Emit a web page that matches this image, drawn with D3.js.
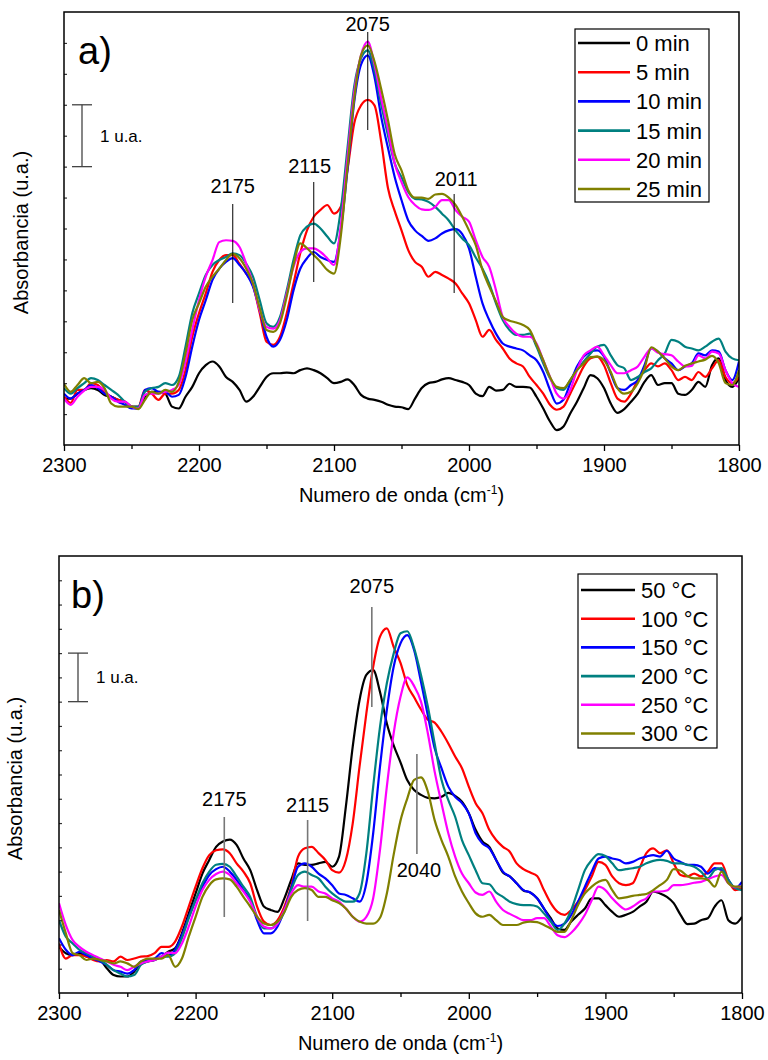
<!DOCTYPE html>
<html>
<head>
<meta charset="utf-8">
<script src="https://cdn.jsdelivr.net/npm/d3@7"></script>
<style>
  body { margin: 0; background: #fff; }
  svg { display: block; }
  text { font-family: "Liberation Sans", Arial, sans-serif; fill: #000; }
</style>
</head>
<body>
<svg id="chart" width="768" height="1060"></svg>
<script>
// sampling grid, 2300 -> 1800 cm-1 every 5
const wavenumbers = d3.range(2300, 1799, -5);

const timeLabels = ['0 min', '5 min', '10 min', '15 min', '20 min', '25 min'];
const tempLabels = ['50 \u00B0C', '100 \u00B0C', '150 \u00B0C', '200 \u00B0C', '250 \u00B0C', '300 \u00B0C'];
const seriesColors = ['#000000', '#ff0000', '#0000ff', '#008080', '#ff00ff', '#808000'];

// panel a) absorbance vs time (u.a.)
const a0min = [
  0.75, 0.75, 0.83, 0.89, 0.92, 0.89, 0.81, 0.78, 0.73, 0.70,
  0.62, 0.59, 0.78, 0.86, 0.86, 0.83, 0.62, 0.59, 0.78, 0.94,
  1.16, 1.29, 1.35, 1.27, 1.10, 1.02, 0.89, 0.70, 0.78, 0.94,
  1.10, 1.16, 1.16, 1.17, 1.16, 1.21, 1.24, 1.21, 1.16, 1.08,
  1.00, 1.02, 1.06, 0.97, 0.81, 0.75, 0.73, 0.70, 0.65, 0.62,
  0.61, 0.58, 0.75, 0.92, 1.00, 1.02, 1.06, 1.08, 1.05, 1.02,
  0.97, 0.83, 0.79, 0.94, 0.88, 0.89, 0.99, 0.94, 0.94, 0.93,
  0.78, 0.59, 0.38, 0.24, 0.30, 0.51, 0.70, 0.92, 1.13, 1.08,
  0.92, 0.67, 0.52, 0.58, 0.70, 0.83, 1.02, 1.13, 0.97, 1.00,
  1.00, 0.83, 0.81, 0.89, 1.02, 0.94, 1.29, 1.40, 1.05, 0.94,
  1.08
];
const a5min = [
  0.78, 0.68, 0.89, 0.89, 1.00, 0.97, 0.86, 0.78, 0.73, 0.70,
  0.62, 0.62, 0.89, 0.83, 0.73, 0.83, 0.83, 0.89, 1.21, 1.75,
  2.13, 2.45, 2.80, 2.99, 3.07, 3.07, 2.93, 2.77, 2.58, 2.13,
  1.67, 1.62, 1.75, 2.13, 2.61, 3.10, 3.47, 3.69, 3.80, 3.88,
  3.74, 3.85, 4.45, 5.20, 5.49, 5.58, 5.49, 4.90, 4.15, 3.78,
  3.47, 3.15, 2.96, 2.88, 2.72, 2.80, 2.75, 2.69, 2.61, 2.45,
  2.29, 2.02, 1.75, 1.86, 1.70, 1.56, 1.40, 1.32, 1.27, 1.10,
  0.97, 0.83, 0.65, 0.57, 0.62, 0.83, 1.05, 1.27, 1.40, 1.43,
  1.29, 1.00, 0.75, 0.70, 0.83, 1.05, 1.21, 1.32, 1.27, 1.32,
  1.21, 1.05, 1.10, 1.05, 1.18, 1.10, 1.24, 1.37, 1.10, 1.00,
  1.10
];
const a10min = [
  0.83, 0.75, 0.83, 0.89, 0.97, 0.92, 0.83, 0.78, 0.70, 0.65,
  0.59, 0.59, 0.89, 0.92, 0.86, 0.86, 0.78, 0.81, 1.10, 1.59,
  2.02, 2.34, 2.67, 2.85, 2.96, 3.02, 2.91, 2.77, 2.56, 2.18,
  1.75, 1.59, 1.70, 2.02, 2.50, 2.85, 3.02, 3.12, 3.04, 2.99,
  2.96, 3.47, 4.45, 5.55, 6.15, 6.30, 5.95, 5.30, 4.80, 4.33,
  3.96, 3.63, 3.47, 3.38, 3.30, 3.34, 3.42, 3.47, 3.49, 3.41,
  3.18, 2.72, 2.29, 2.02, 1.80, 1.64, 1.59, 1.56, 1.53, 1.45,
  1.37, 1.18, 0.89, 0.67, 0.73, 1.00, 1.27, 1.43, 1.51, 1.53,
  1.43, 1.16, 0.92, 0.89, 0.97, 1.05, 1.29, 1.56, 1.51, 1.40,
  1.32, 1.21, 1.27, 1.32, 1.48, 1.45, 1.53, 1.51, 1.21, 1.05,
  1.35
];
const a15min = [
  0.92, 0.83, 0.92, 1.00, 1.08, 1.05, 0.97, 0.89, 0.81, 0.70,
  0.62, 0.62, 0.86, 0.92, 0.94, 1.00, 0.97, 1.10, 1.59, 2.13,
  2.45, 2.75, 2.91, 2.99, 3.04, 3.10, 3.07, 2.93, 2.72, 2.34,
  1.97, 1.91, 2.07, 2.50, 2.99, 3.39, 3.53, 3.58, 3.50, 3.37,
  3.26, 3.80, 4.80, 5.80, 6.25, 6.38, 6.05, 5.50, 5.00, 4.55,
  4.33, 4.09, 3.98, 3.97, 3.93, 3.85, 3.74, 3.63, 3.47, 3.34,
  3.23, 3.03, 2.85, 2.61, 2.29, 2.02, 1.86, 1.78, 1.78, 1.80,
  1.59, 1.32, 1.08, 0.92, 0.89, 1.05, 1.21, 1.35, 1.48, 1.59,
  1.62, 1.45, 1.29, 1.24, 1.05, 1.10, 1.18, 1.24, 1.37, 1.48,
  1.70, 1.67, 1.59, 1.56, 1.53, 1.59, 1.67, 1.72, 1.51, 1.40,
  1.37
];
const a20min = [
  0.75, 0.65, 0.78, 0.88, 0.94, 0.94, 0.89, 0.75, 0.70, 0.70,
  0.62, 0.59, 0.81, 0.83, 0.83, 0.86, 0.89, 0.97, 1.35, 1.86,
  2.34, 2.72, 2.99, 3.28, 3.31, 3.30, 3.20, 2.93, 2.61, 2.18,
  1.91, 1.88, 2.02, 2.45, 2.88, 3.12, 3.18, 3.18, 3.12, 3.02,
  2.91, 3.53, 4.65, 5.70, 6.30, 6.52, 6.15, 5.60, 5.10, 4.55,
  4.25, 4.01, 3.88, 3.81, 3.80, 3.85, 3.96, 3.96, 3.80, 3.69,
  3.61, 3.31, 3.04, 2.88, 2.50, 2.07, 1.91, 1.80, 1.75, 1.75,
  1.64, 1.37, 1.10, 0.83, 0.75, 0.89, 1.21, 1.45, 1.53, 1.59,
  1.45, 1.29, 1.16, 1.16, 1.21, 1.27, 1.43, 1.56, 1.49, 1.47,
  1.45, 1.35, 1.27, 1.28, 1.45, 1.40, 1.51, 1.48, 1.21, 1.00,
  0.94
];
const a25min = [
  0.99, 0.86, 0.97, 1.08, 1.00, 1.02, 0.92, 0.67, 0.62, 0.62,
  0.62, 0.58, 0.73, 0.86, 0.83, 0.89, 0.86, 1.02, 1.48, 2.02,
  2.29, 2.56, 2.72, 2.85, 2.99, 3.09, 3.02, 2.85, 2.61, 2.21,
  1.86, 1.83, 1.97, 2.40, 2.91, 3.26, 3.18, 3.07, 2.96, 2.83,
  2.77, 3.37, 4.50, 5.60, 6.30, 6.46, 6.20, 5.75, 5.25, 4.70,
  4.44, 4.12, 4.00, 4.00, 3.98, 4.05, 4.06, 4.00, 3.88, 3.69,
  3.47, 3.23, 2.83, 2.56, 2.32, 2.07, 2.01, 1.98, 1.94, 1.86,
  1.62, 1.37, 1.10, 0.94, 0.92, 1.05, 1.21, 1.32, 1.42, 1.43,
  1.37, 1.18, 0.92, 0.83, 0.86, 1.00, 1.24, 1.58, 1.51, 1.40,
  1.27, 1.21, 1.28, 1.32, 1.35, 1.38, 1.44, 1.32, 1.00, 0.97,
  1.21
];

// panel b) absorbance vs temperature (u.a.)
const b50C = [
  0.95, 0.82, 0.78, 0.82, 0.75, 0.71, 0.68, 0.51, 0.37, 0.34,
  0.34, 0.44, 0.61, 0.65, 0.68, 0.75, 0.85, 0.92, 1.23, 1.64,
  2.05, 2.46, 2.74, 3.01, 3.12, 3.16, 3.05, 2.77, 2.53, 2.12,
  1.78, 1.71, 1.67, 1.95, 2.33, 2.67, 2.64, 2.64, 2.67, 2.70,
  2.60, 2.81, 3.84, 5.07, 6.03, 6.55, 6.65, 6.20, 5.55, 5.10,
  4.75, 4.38, 4.18, 4.08, 4.02, 4.01, 4.04, 4.12, 4.06, 3.94,
  3.70, 3.36, 3.12, 3.01, 2.74, 2.48, 2.40, 2.26, 2.11, 2.07,
  1.95, 1.74, 1.54, 1.33, 1.30, 1.47, 1.61, 1.74, 1.95, 1.95,
  1.81, 1.67, 1.57, 1.61, 1.67, 1.78, 1.88, 2.09, 2.05, 1.98,
  1.85, 1.61, 1.42, 1.43, 1.50, 1.54, 1.78, 1.91, 1.50, 1.43,
  1.57
];
const b100C = [
  1.02, 0.71, 0.78, 0.78, 0.75, 0.68, 0.65, 0.68, 0.65, 0.75,
  0.68, 0.71, 0.75, 0.76, 0.82, 0.95, 0.95, 1.06, 1.37, 1.78,
  2.19, 2.57, 2.84, 2.94, 2.96, 2.88, 2.67, 2.50, 2.26, 1.78,
  1.47, 1.40, 1.50, 1.78, 2.19, 2.81, 2.98, 3.01, 2.88, 2.74,
  2.53, 2.48, 2.74, 3.49, 4.66, 5.76, 6.72, 7.34, 7.51, 7.13,
  6.80, 6.34, 6.09, 5.84, 5.63, 5.57, 5.38, 5.14, 4.87, 4.63,
  4.25, 3.91, 3.70, 3.36, 3.15, 3.01, 2.91, 2.67, 2.55, 2.48,
  2.41, 2.12, 1.85, 1.67, 1.61, 1.71, 1.88, 2.12, 2.40, 2.70,
  2.64, 2.40, 2.26, 2.22, 2.26, 2.57, 2.88, 2.98, 2.88, 2.94,
  2.67, 2.43, 2.40, 2.46, 2.40, 2.50, 2.67, 2.67, 2.33, 2.12,
  2.16
];
const b150C = [
  1.13, 0.89, 0.78, 0.85, 0.78, 0.71, 0.65, 0.58, 0.47, 0.44,
  0.40, 0.47, 0.65, 0.68, 0.71, 0.82, 0.78, 0.89, 1.19, 1.57,
  1.91, 2.19, 2.43, 2.55, 2.60, 2.50, 2.33, 2.12, 1.91, 1.50,
  1.23, 1.23, 1.37, 1.71, 2.16, 2.60, 2.67, 2.60, 2.46, 2.36,
  2.22, 2.05, 2.02, 1.95, 1.88, 2.26, 3.29, 4.66, 5.83, 6.72,
  7.20, 7.37, 7.06, 6.41, 5.72, 5.04, 4.63, 4.25, 4.04, 3.91,
  3.70, 3.29, 3.08, 2.98, 2.74, 2.50, 2.40, 2.26, 2.12, 2.07,
  1.95, 1.74, 1.50, 1.38, 1.43, 1.61, 1.88, 2.19, 2.50, 2.77,
  2.81, 2.77, 2.74, 2.67, 2.70, 2.77, 2.81, 2.84, 2.81, 2.93,
  2.77, 2.70, 2.64, 2.64, 2.60, 2.46, 2.57, 2.53, 2.33, 2.16,
  2.29
];
const b200C = [
  1.50, 1.16, 1.02, 0.89, 0.82, 0.75, 0.68, 0.58, 0.47, 0.40,
  0.34, 0.37, 0.58, 0.65, 0.68, 0.75, 0.75, 0.82, 1.13, 1.54,
  1.91, 2.26, 2.50, 2.64, 2.66, 2.60, 2.40, 2.19, 1.98, 1.57,
  1.33, 1.33, 1.43, 1.67, 2.12, 2.43, 2.50, 2.43, 2.36, 2.19,
  2.05, 1.95, 1.88, 1.88, 2.05, 2.88, 4.25, 5.48, 6.38, 6.99,
  7.41, 7.45, 7.10, 6.55, 5.90, 5.14, 4.39, 3.97, 3.63, 3.15,
  2.84, 2.53, 2.26, 2.24, 2.07, 1.98, 1.88, 1.83, 1.81, 1.81,
  1.78, 1.64, 1.47, 1.30, 1.43, 1.71, 2.12, 2.53, 2.74, 2.86,
  2.82, 2.67, 2.53, 2.55, 2.57, 2.60, 2.67, 2.72, 2.74, 2.72,
  2.67, 2.67, 2.64, 2.60, 2.50, 2.36, 2.53, 2.57, 2.33, 2.16,
  2.12
];
const b250C = [
  1.85, 1.40, 1.09, 0.95, 0.85, 0.78, 0.71, 0.65, 0.58, 0.54,
  0.47, 0.54, 0.61, 0.65, 0.68, 0.75, 0.83, 0.82, 1.02, 1.37,
  1.78, 2.12, 2.33, 2.45, 2.50, 2.43, 2.26, 2.09, 1.88, 1.57,
  1.37, 1.33, 1.43, 1.71, 2.05, 2.22, 2.19, 2.19, 2.09, 2.05,
  1.95, 1.88, 1.74, 1.57, 1.47, 1.57, 1.95, 2.95, 4.25, 5.35,
  6.10, 6.50, 6.32, 6.00, 5.35, 4.56, 3.91, 3.29, 2.81, 2.46,
  2.26, 2.07, 2.02, 2.09, 1.88, 1.71, 1.63, 1.56, 1.50, 1.50,
  1.54, 1.54, 1.37, 1.19, 1.15, 1.24, 1.40, 1.61, 1.91, 2.19,
  2.12, 1.95, 1.81, 1.72, 1.78, 1.88, 1.95, 2.09, 2.09, 2.11,
  2.22, 2.22, 2.24, 2.27, 2.29, 2.34, 2.40, 2.43, 2.26, 2.18,
  2.19
];
const b300C = [
  1.71, 1.23, 0.82, 0.78, 0.68, 0.71, 0.68, 0.65, 0.61, 0.65,
  0.61, 0.54, 0.65, 0.71, 0.71, 0.71, 0.78, 0.54, 0.71, 1.16,
  1.57, 1.98, 2.22, 2.34, 2.36, 2.34, 2.19, 1.98, 1.78, 1.57,
  1.43, 1.40, 1.47, 1.67, 1.98, 2.12, 2.16, 2.12, 1.98, 1.98,
  1.91, 1.85, 1.74, 1.57, 1.47, 1.43, 1.43, 1.55, 2.05, 2.85,
  3.55, 4.01, 4.39, 4.44, 4.15, 3.56, 3.15, 2.81, 2.40, 2.09,
  1.85, 1.64, 1.57, 1.61, 1.50, 1.40, 1.40, 1.40, 1.45, 1.47,
  1.46, 1.40, 1.33, 1.26, 1.26, 1.50, 1.81, 2.05, 2.19, 2.29,
  2.33, 2.12, 1.95, 1.97, 2.00, 2.02, 2.04, 2.12, 2.22, 2.33,
  2.55, 2.52, 2.41, 2.36, 2.36, 2.33, 2.19, 2.50, 2.26, 2.19,
  2.19
];

const xTicks = [2300, 2200, 2100, 2000, 1900, 1800];
const xMinorTicks = [2250, 2150, 2050, 1950, 1850];

// peak marks: label and wavenumber of the marker line
const peaksA = [
  { label: '2175', at: 2175 },
  { label: '2115', at: 2115 },
  { label: '2075', at: 2075 },
  { label: '2011', at: 2011 }
];
const peaksB = [
  { label: '2175', at: 2179 },
  { label: '2115', at: 2118 },
  { label: '2075', at: 2071 },
  { label: '2040', at: 2038 }
];

const FONT_TICK = 20;
const FONT_TITLE = 20;
const FONT_LEGEND = 22;
const FONT_PEAK = 20;

const svg = d3.select('#chart');

function drawPanel(cfg) {
  const { left, right, top, bottom, yMax } = cfg;
  const g = svg.append('g');

  const x = d3.scaleLinear().domain([2300, 1800]).range([left, right]);
  const y = d3.scaleLinear().domain([0, yMax]).range([bottom, top]);

  const clipId = 'clip-' + cfg.name;
  svg.append('clipPath').attr('id', clipId)
    .append('rect')
    .attr('x', left).attr('y', top)
    .attr('width', right - left).attr('height', bottom - top);

  // curves
  const line = d3.line()
    .x((d, i) => x(wavenumbers[i]))
    .y((d) => y(d))
    .curve(d3.curveMonotoneX);

  const curves = g.append('g').attr('clip-path', `url(#${clipId})`);
  cfg.series.forEach((s, i) => {
    curves.append('path')
      .attr('d', line(s))
      .attr('fill', 'none')
      .attr('stroke', seriesColors[i])
      .attr('stroke-width', 2.2)
      .attr('stroke-linejoin', 'round');
  });

  // x axis, major + minor ticks
  const xAxis = d3.axisBottom(x)
    .tickValues(xTicks)
    .tickSize(6)
    .tickSizeOuter(0)
    .tickPadding(7)
    .tickFormat(d3.format('d'));
  const ax = g.append('g').attr('transform', `translate(0,${bottom})`).call(xAxis);
  ax.select('.domain').remove();
  ax.selectAll('line').attr('stroke', '#000').attr('stroke-width', 1.3);
  ax.selectAll('text')
    .attr('font-size', FONT_TICK)
    .attr('font-family', '"Liberation Sans", Arial, sans-serif')
    .attr('fill', '#000');

  const xMinor = d3.axisBottom(x).tickValues(xMinorTicks).tickSize(4).tickFormat('');
  const axm = g.append('g').attr('transform', `translate(0,${bottom})`).call(xMinor);
  axm.select('.domain').remove();
  axm.selectAll('line').attr('stroke', '#000').attr('stroke-width', 1.3);

  // y axis: unlabelled inward ticks
  const yAxis = d3.axisRight(y)
    .tickValues(d3.range(0.5, yMax, 0.5))
    .tickSize(3)
    .tickFormat('');
  const ay = g.append('g').attr('transform', `translate(${left},0)`).call(yAxis);
  ay.select('.domain').remove();
  ay.selectAll('line').attr('stroke', '#333').attr('stroke-width', 1.2);

  // frame
  g.append('rect')
    .attr('x', left).attr('y', top)
    .attr('width', right - left).attr('height', bottom - top)
    .attr('fill', 'none')
    .attr('stroke', '#000')
    .attr('stroke-width', 1.5);

  // axis titles
  const xt = g.append('text')
    .attr('x', (left + right) / 2)
    .attr('y', bottom + 57)
    .attr('text-anchor', 'middle')
    .attr('font-size', FONT_TITLE);
  xt.append('tspan').text('Numero de onda (cm');
  xt.append('tspan').attr('font-size', 12).attr('dy', -8).text('-1');
  xt.append('tspan').attr('dy', 8).text(')');

  g.append('text')
    .attr('transform', `translate(${cfg.yTitleX},${(top + bottom) / 2 + 4}) rotate(-90)`)
    .attr('text-anchor', 'middle')
    .attr('font-size', FONT_TITLE)
    .text('Absorbancia (u.a.)');

  // panel letter
  g.append('text')
    .attr('x', cfg.letterX)
    .attr('y', top + 52)
    .attr('font-size', 38)
    .text(cfg.letter);

  // scale bar: 1 u.a.
  const sb = cfg.scaleBar;
  const sbTop = y(sb.y0 + 1);
  const sbBot = y(sb.y0);
  g.append('line').attr('x1', sb.x).attr('x2', sb.x).attr('y1', sbTop).attr('y2', sbBot)
    .attr('stroke', '#444').attr('stroke-width', 1.3);
  [sbTop, sbBot].forEach((yy) => {
    g.append('line').attr('x1', sb.x - 10).attr('x2', sb.x + 10).attr('y1', yy).attr('y2', yy)
      .attr('stroke', '#444').attr('stroke-width', 1.3);
  });
  g.append('text')
    .attr('x', sb.x + 18)
    .attr('y', (sbTop + sbBot) / 2 + 6)
    .attr('font-size', 17)
    .text('1 u.a.');

  // peak markers
  cfg.peaks.forEach((p, i) => {
    const pos = cfg.peakLayout[i];
    const px = x(p.at);
    g.append('line')
      .attr('x1', px).attr('x2', px)
      .attr('y1', pos.y1).attr('y2', pos.y2)
      .attr('stroke', cfg.peakStroke)
      .attr('stroke-width', cfg.peakWidth);
    g.append('text')
      .attr('x', px + (pos.dx || 0))
      .attr('y', pos.ty)
      .attr('text-anchor', 'middle')
      .attr('font-size', FONT_PEAK)
      .text(p.label);
  });

  // legend
  const lg = cfg.legend;
  g.append('rect')
    .attr('x', lg.x).attr('y', lg.y)
    .attr('width', lg.w).attr('height', lg.h)
    .attr('fill', '#fff')
    .attr('stroke', '#000')
    .attr('stroke-width', 1.2);
  cfg.labels.forEach((lab, i) => {
    const ly = lg.y + lg.first + i * lg.step;
    g.append('line')
      .attr('x1', lg.x + 3).attr('x2', lg.x + 3 + lg.lineLen)
      .attr('y1', ly).attr('y2', ly)
      .attr('stroke', seriesColors[i])
      .attr('stroke-width', 2.6);
    g.append('text')
      .attr('x', lg.x + lg.textX)
      .attr('y', ly)
      .attr('dy', '0.36em')
      .attr('font-size', FONT_LEGEND)
      .text(lab);
  });
}

drawPanel({
  name: 'a',
  left: 64, right: 739, top: 12, bottom: 445, yMax: 7,
  series: [a0min, a5min, a10min, a15min, a20min, a25min],
  labels: timeLabels,
  letter: 'a)', letterX: 78,
  yTitleX: 28,
  scaleBar: { x: 82, y0: 4.5 },
  peaks: peaksA,
  peakStroke: '#000', peakWidth: 1,
  peakLayout: [
    { y1: 204, y2: 303, ty: 193 },
    { y1: 182, y2: 282, ty: 173, dx: -4 },
    { y1: 32, y2: 130, ty: 31 },
    { y1: 194, y2: 293, ty: 186, dx: 2 }
  ],
  legend: { x: 575, y: 29, w: 134, h: 173, first: 14, step: 29.2, lineLen: 52, textX: 61 }
});

drawPanel({
  name: 'b',
  left: 59, right: 742, top: 556, bottom: 993, yMax: 9,
  series: [b50C, b100C, b150C, b200C, b250C, b300C],
  labels: tempLabels,
  letter: 'b)', letterX: 71,
  yTitleX: 22,
  scaleBar: { x: 78, y0: 6.0 },
  peaks: peaksB,
  peakStroke: '#777', peakWidth: 1.6,
  peakLayout: [
    { y1: 817, y2: 917, ty: 806 },
    { y1: 820, y2: 921, ty: 812 },
    { y1: 607, y2: 707, ty: 593 },
    { y1: 754, y2: 854, ty: 877, dx: 2 }
  ],
  legend: { x: 578, y: 574, w: 139, h: 174, first: 16, step: 28.7, lineLen: 54, textX: 63 }
});
</script>
</body>
</html>
